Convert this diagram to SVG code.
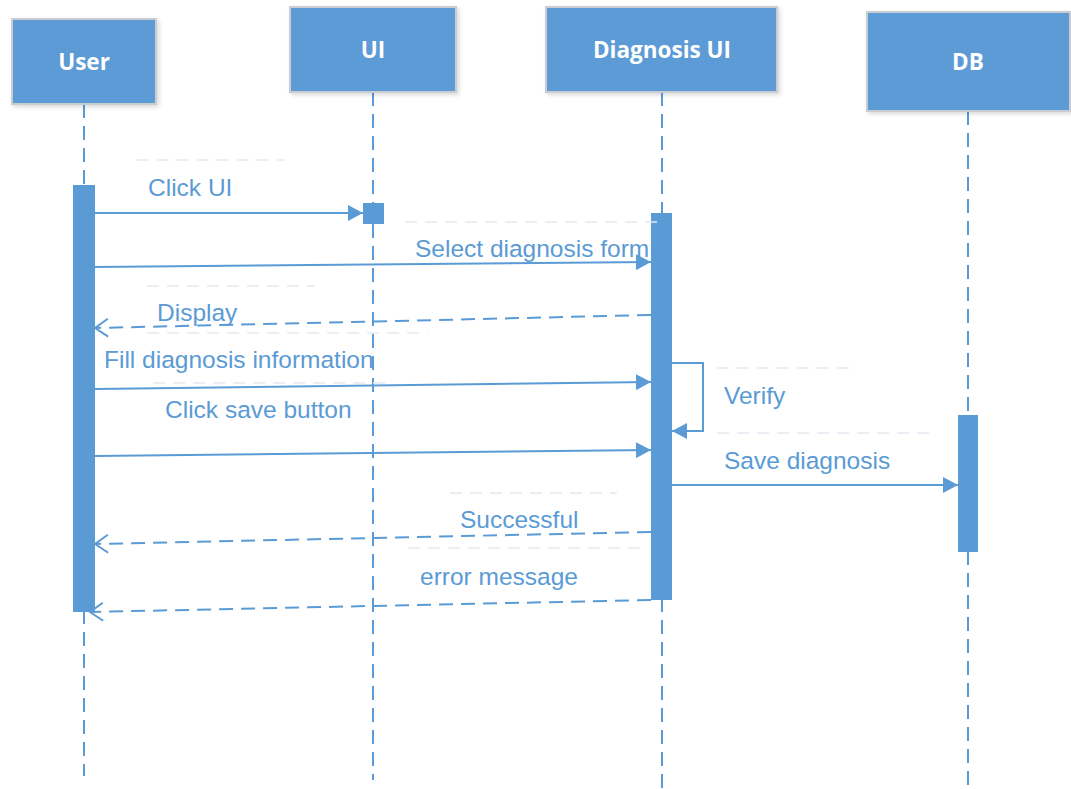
<svg xmlns="http://www.w3.org/2000/svg" width="1071" height="789" viewBox="0 0 1071 789">
<style>
.box{fill:#5B9BD5;stroke:#C9CDD2;stroke-width:2}
.hdr{font-family:"Open Sans","Liberation Sans",sans-serif;font-weight:bold;font-size:22.5px;fill:#fff;text-anchor:middle}
.life{stroke:#5B9BD5;stroke-width:2;stroke-dasharray:14 8;fill:none}
.act{fill:#5B9BD5}
.msg{stroke:#5B9BD5;stroke-width:2;fill:none}
.ret{stroke:#5B9BD5;stroke-width:2;fill:none;stroke-dasharray:14 8}
.lbl{font-family:"Liberation Sans",sans-serif;font-size:24.5px;fill:#5B9BD5}
.faint{stroke:#E4EAF2;stroke-width:1.5;stroke-dasharray:12 8;fill:none}
</style>
<defs>
<marker id="fill" markerWidth="16" markerHeight="16" refX="15" refY="8" orient="auto" markerUnits="userSpaceOnUse"><path d="M0,0 L15,8 L0,16 Z" fill="#5B9BD5"/></marker>
<marker id="open" markerWidth="18" markerHeight="22" refX="15" refY="11" orient="auto" markerUnits="userSpaceOnUse"><path d="M2,2 L15,11 L2,20" fill="none" stroke="#5B9BD5" stroke-width="2"/></marker>
<filter id="sh" x="-10%" y="-10%" width="130%" height="130%"><feDropShadow dx="2" dy="2" stdDeviation="2" flood-color="#000" flood-opacity="0.15"/></filter>
</defs>
<g id="lifelines">
<line class="life" x1="84" y1="104" x2="84" y2="776"/>
<line class="life" x1="373" y1="92" x2="373" y2="780"/>
<line class="life" x1="662" y1="92" x2="662" y2="789"/>
<line class="life" x1="968" y1="111" x2="968" y2="789"/>
</g>
<g id="user"><rect class="box" filter="url(#sh)" x="12" y="19" width="144" height="85"/><text class="hdr" x="84" y="70">User</text></g>
<g id="ui"><rect class="box" filter="url(#sh)" x="290" y="7" width="166" height="85"/><text class="hdr" x="373" y="58">UI</text></g>
<g id="diagnosis-ui"><rect class="box" filter="url(#sh)" x="546" y="7" width="231" height="85"/><text class="hdr" x="662" y="58">Diagnosis UI</text></g>
<g id="db"><rect class="box" filter="url(#sh)" x="867" y="12" width="203" height="99"/><text class="hdr" x="968" y="70">DB</text></g>
<g id="activations">
<rect class="act" x="73" y="185" width="22" height="427"/>
<rect class="act" x="363" y="203" width="21" height="21"/>
<rect class="act" x="651" y="213" width="21" height="387"/>
<rect class="act" x="958" y="415" width="20" height="137"/>
</g>
<g id="label-frames">
<line class="faint" x1="137" y1="160" x2="285" y2="160"/>
<line class="faint" x1="405" y1="222" x2="663" y2="222"/>
<line class="faint" x1="147" y1="286" x2="315" y2="286"/>
<line class="faint" x1="147" y1="333" x2="428" y2="333"/>
<line class="faint" x1="153" y1="383" x2="387" y2="383"/>
<line class="faint" x1="717" y1="368" x2="855" y2="368"/>
<line class="faint" x1="717" y1="433" x2="935" y2="433"/>
<line class="faint" x1="450" y1="493" x2="617" y2="493"/>
<line class="faint" x1="408" y1="548" x2="640" y2="548"/>
</g>
<g id="connectors">
<line class="msg" x1="95" y1="213" x2="363" y2="213" marker-end="url(#fill)"/>
<line class="msg" x1="95" y1="267" x2="651" y2="262" marker-end="url(#fill)"/>
<line class="ret" x1="651" y1="315" x2="95" y2="328" marker-end="url(#open)"/>
<line class="msg" x1="95" y1="389" x2="651" y2="382" marker-end="url(#fill)"/>
<polyline class="msg" points="672,363 703,363 703,431 672,431" marker-end="url(#fill)"/>
<line class="msg" x1="95" y1="456" x2="651" y2="450" marker-end="url(#fill)"/>
<line class="msg" x1="672" y1="485" x2="958" y2="485" marker-end="url(#fill)"/>
<line class="ret" x1="651" y1="532" x2="95" y2="544" marker-end="url(#open)"/>
<line class="ret" x1="651" y1="600" x2="90" y2="612" marker-end="url(#open)"/>
</g>
<g id="labels">
<text class="lbl" x="148" y="196">Click UI</text>
<text class="lbl" x="415" y="257">Select diagnosis form</text>
<text class="lbl" x="157" y="321">Display</text>
<text class="lbl" x="104" y="368">Fill diagnosis information</text>
<text class="lbl" x="724" y="404">Verify</text>
<text class="lbl" x="165" y="418">Click save button</text>
<text class="lbl" x="724" y="469">Save diagnosis</text>
<text class="lbl" x="460" y="528">Successful</text>
<text class="lbl" x="420" y="585">error message</text>
</g>
</svg>
